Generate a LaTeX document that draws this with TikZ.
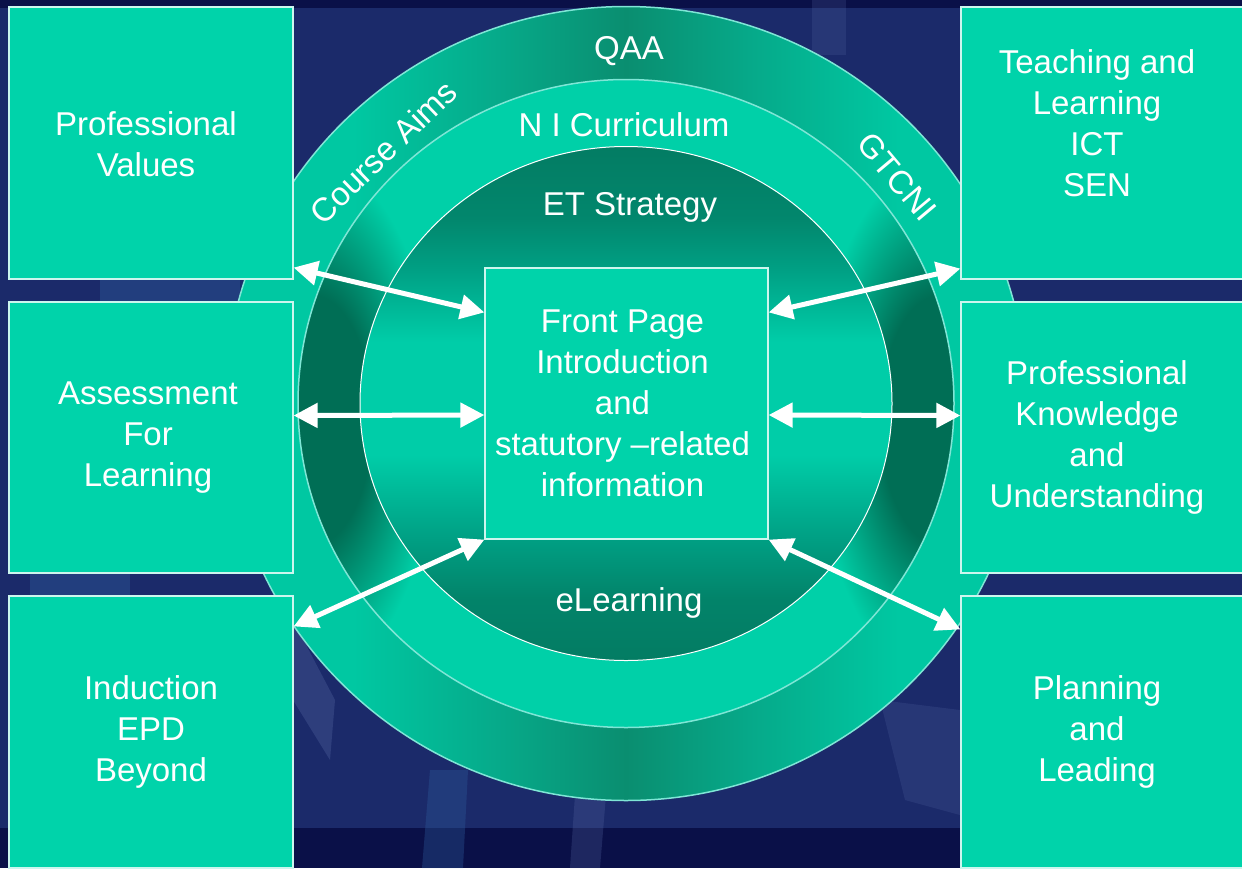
\documentclass[tikz,border=0pt]{standalone}
\usepackage{fontspec}
\setmainfont{Liberation Sans}
\usetikzlibrary{arrows.meta,calc}
\definecolor{navy}{HTML}{1B2A6A}
\definecolor{navydark}{HTML}{0A1048}
\definecolor{streak}{HTML}{5B6DA8}
\definecolor{streakb}{HTML}{2D5C9C}
\definecolor{boxgreen}{HTML}{00D3AA}
\definecolor{obright}{HTML}{00C8A2}
\definecolor{omid}{HTML}{06AA8A}
\definecolor{odark}{HTML}{0A8E70}
\definecolor{mbright}{HTML}{00D0A8}
\definecolor{mdark}{HTML}{006E55}
\definecolor{idark}{HTML}{037C63}
\definecolor{imid}{HTML}{00A084}
\definecolor{ibright}{HTML}{00CDA8}
\definecolor{rim}{HTML}{7FE6D6}
\pgfdeclarehorizontalshading{outerband}{100bp}{color(0bp)=(obright); color(25bp)=(obright); color(33bp)=(obright); color(42bp)=(omid); color(50bp)=(odark); color(58bp)=(omid); color(67bp)=(obright); color(75bp)=(obright); color(100bp)=(obright)}
\pgfdeclareverticalshading{innerdisc}{100bp}{color(0bp)=(idark); color(25bp)=(idark); color(31bp)=(idark!80!imid); color(37bp)=(imid); color(45bp)=(ibright); color(56bp)=(ibright); color(63bp)=(imid); color(68bp)=(idark!70!imid); color(75bp)=(idark); color(100bp)=(idark)}
\pgfdeclareradialshading{blob}{\pgfpoint{0bp}{0bp}}{color(0bp)=(mdark); color(12bp)=(mdark); color(25bp)=(mbright); color(50bp)=(mbright)}
\tikzset{
  greenbox/.style={draw=white!80!boxgreen, line width=1.2pt, fill=boxgreen, inner sep=0pt},
  boxtext/.style={text=white, inner sep=0pt, align=center, font=\fontsize{33}{41}\selectfont},
  ringlabel/.style={text=white, inner sep=0pt, font=\fontsize{33}{40}\selectfont},
  link/.style={draw=white, line width=5pt, {Triangle[length=24pt,width=24pt]}-{Triangle[length=24pt,width=24pt]}},
}
\begin{document}
\begin{tikzpicture}[x=1pt,y=-1pt]
\clip (0,0) rectangle (1242,868);
% background
\fill[navy] (0,0) rectangle (1242,868);
\fill[navydark] (0,0) rectangle (1242,8);
\fill[navydark] (0,828) rectangle (1242,868);
\fill[streakb, opacity=0.4] (100,279) rectangle (240,302);
\fill[streakb, opacity=0.4] (30,573) rectangle (130,596);
\fill[streak, opacity=0.3] (293,620) -- (335,700) -- (330,760) -- (293,700) -- cycle;
\fill[streakb, opacity=0.35] (430,770) -- (468,770) -- (463,868) -- (422,868) -- cycle;
\fill[streak, opacity=0.25] (575,795) -- (606,795) -- (600,868) -- (570,868) -- cycle;
\fill[streak, opacity=0.2] (880,700) -- (960,710) -- (960,815) -- (905,800) -- cycle;
\fill[streak, opacity=0.2] (812,0) rectangle (846,55);
% rings
\shade[shading=outerband] (626,403.5) ellipse [x radius=401, y radius=397];
\begin{scope}
  \clip (626,403.5) ellipse [x radius=328, y radius=324];
  \fill[mbright] (626,403.5) ellipse [x radius=328, y radius=324];
  \shade[shading=blob] (312,420) ellipse [x radius=125, y radius=260];
  \shade[shading=blob] (940,420) ellipse [x radius=125, y radius=260];
\end{scope}
\draw[rim, line width=1.5pt] (626,403.5) ellipse [x radius=401, y radius=397];
\draw[rim, line width=1.5pt] (626,403.5) ellipse [x radius=328, y radius=324];
\shade[shading=innerdisc] (626,403.5) ellipse [x radius=266, y radius=257];
\draw[white, line width=1pt] (626,403.5) ellipse [x radius=266, y radius=257];
% ring labels
\node[ringlabel, anchor=base] (qaa) at (629,59) {QAA};
\node[ringlabel, anchor=base] (nic) at (624,136) {N I Curriculum};
\node[ringlabel, anchor=base] (ets) at (630,215) {ET Strategy};
\node[ringlabel, anchor=base] (elr) at (629,611) {eLearning};
\node[ringlabel, rotate=44] (caims) at (383,152) {Course Aims};
\node[ringlabel, rotate=-50] (gtc) at (897,177) {GTCNI};
% boxes
\node[greenbox, minimum width=284pt, minimum height=272pt] (pv) at (151,143) {};
\node[greenbox, minimum width=284pt, minimum height=271pt] (afl) at (151,437.5) {};
\node[greenbox, minimum width=284pt, minimum height=272pt] (ind) at (151,732) {};
\node[greenbox, minimum width=284pt, minimum height=272pt] (tl) at (1103,143) {};
\node[greenbox, minimum width=284pt, minimum height=271pt] (pku) at (1103,437.5) {};
\node[greenbox, minimum width=284pt, minimum height=272pt] (pl) at (1103,732) {};
\node[greenbox, minimum width=283pt, minimum height=271pt] (c) at (626.5,403.5) {};
% box texts
\node[boxtext] (pvt) at ($(pv.center)+(-5,1)$) {Professional\\Values};
\node[boxtext] (aflt) at ($(afl.center)+(-3,0)$) {Assessment\\For\\Learning};
\node[boxtext] (indt) at ($(ind.center)+(0,0)$) {Induction\\EPD\\Beyond};
\node[boxtext] (tlt) at ($(tl.center)+(-6,-20)$) {Teaching and\\Learning\\ICT\\SEN};
\node[boxtext] (pkut) at ($(pku.center)+(-6,0)$) {Professional\\Knowledge\\and\\Understanding};
\node[boxtext] (plt) at ($(pl.center)+(-6,0)$) {Planning\\and\\Leading};
\node[boxtext] (ct) at ($(c.center)+(-4,0)$) {Front Page\\Introduction\\and\\statutory --related\\information};
% connectors
\draw[link] ($(pv.south east)+(0,-12)$) -- ($(c.north west)+(0,45)$);
\draw[link] ($(afl.east)+(0,-22)$) -- ($(c.west)+(0,11.5)$);
\draw[link] ($(ind.north east)+(0,31)$) -- (c.south west);
\draw[link] ($(c.north east)+(0,45)$) -- ($(tl.south west)+(0,-11)$);
\draw[link] ($(c.east)+(0,11.5)$) -- ($(pku.west)+(0,-22)$);
\draw[link] (c.south east) -- ($(pl.north west)+(0,34)$);
\end{tikzpicture}
\end{document}
